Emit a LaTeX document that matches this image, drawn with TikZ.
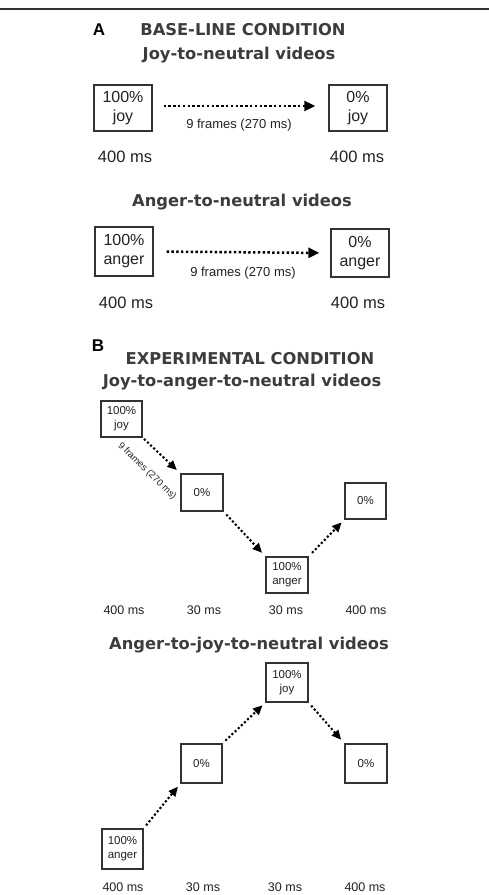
\documentclass[tikz,border=0pt]{standalone}
\usepackage{fontspec}
\setmainfont{Liberation Sans}
\newfontfamily\titlefont{DejaVu Sans}
\usetikzlibrary{arrows.meta}
\definecolor{titlegray}{HTML}{3C3C3C}
\definecolor{textgray}{HTML}{222222}
\definecolor{linegray}{HTML}{333333}
\tikzset{
  bigbox/.style={draw=linegray, line width=1.3pt, minimum width=58pt, minimum height=47pt, inner sep=0pt, align=center, text=textgray, font=\fontsize{16}{19}\selectfont},
  smallbox/.style={draw=linegray, line width=1.1pt, minimum width=42pt, minimum height=38pt, inner sep=0pt, align=center, text=textgray, font=\fontsize{11.5}{14}\selectfont},
  titletext/.style={text=titlegray, font=\titlefont\bfseries\fontsize{16.3}{19}\selectfont, inner sep=0pt},
  letter/.style={text=black, font=\bfseries\fontsize{17}{19}\selectfont, inner sep=0pt},
  bigtime/.style={text=textgray, font=\fontsize{16.5}{19}\selectfont, inner sep=0pt},
  smalltime/.style={text=textgray, font=\fontsize{12.5}{15}\selectfont, inner sep=0pt},
  framelabel/.style={text=textgray, font=\fontsize{13}{15}\selectfont, inner sep=0pt},
  bigarrow/.style={draw=black, line width=2.5pt, dash pattern=on 2.4pt off 2.4pt, -{Triangle[length=11pt,width=10pt]}},
  smallarrow/.style={draw=black, line width=2.1pt, dash pattern=on 2.1pt off 2.2pt, -{Triangle[length=9.5pt,width=8.5pt]}},
}
\begin{document}
\begin{tikzpicture}[x=1pt,y=-1pt]
\useasboundingbox (0,0) rectangle (489,895);
\fill[white] (0,0) rectangle (489,895);
\coordinate (ruleL) at (0,9);
\coordinate (ruleR) at (489,9);
\draw[line width=1.2pt, linegray] (ruleL) -- (ruleR);

% ---------- A ----------
\node[letter] (lA) at (99,30) {A};
\node[titletext] (tA) at (243,30) {BASE-LINE CONDITION};
\node[titletext] (tA1) at (239,55) {Joy-to-neutral videos};

\node[bigbox, minimum height=46pt] (a1) at (123,108) {100\%\\joy};
\node[bigbox, minimum height=46pt] (a2) at (358,108) {0\%\\joy};
\draw[bigarrow, shorten <=11pt, shorten >=13pt] ([yshift=2pt]a1.east) -- ([yshift=2pt]a2.west);
\node[framelabel] (f1) at (239,125) {9 frames (270 ms)};
\node[bigtime] (ta1) at (125,157) {400 ms};
\node[bigtime] (ta2) at (357,157) {400 ms};

\node[titletext] (tA2) at (242,202) {Anger-to-neutral videos};
\node[bigbox, minimum height=49pt] (a3) at (124,251.5) {100\%\\anger};
\node[bigbox, minimum height=48pt] (a4) at (360,253) {0\%\\anger};
\draw[bigarrow, shorten <=13pt, shorten >=11pt] (a3.east) -- (a4.west);
\node[framelabel] (f2) at (243,273) {9 frames (270 ms)};
\node[bigtime] (ta3) at (126,303) {400 ms};
\node[bigtime] (ta4) at (358,303) {400 ms};

% ---------- B ----------
\node[letter] (lB) at (98,346) {B};
\node[titletext] (tB) at (250,359) {EXPERIMENTAL CONDITION};
\node[titletext] (tB1) at (242,382) {Joy-to-anger-to-neutral videos};

\node[smallbox, minimum width=41pt, minimum height=36pt] (b1) at (121.5,419) {100\%\\joy};
\node[smallbox, minimum height=37pt] (b2) at (202,492.5) {0\%};
\node[smallbox, minimum height=36pt] (b3) at (287,575) {100\%\\anger};
\node[smallbox, minimum width=41pt, minimum height=36pt] (b4) at (365.5,501) {0\%};
\draw[smallarrow, shorten <=2pt, shorten >=5pt] (b1.south east) -- (b2.north west);
\draw[smallarrow, shorten <=4pt, shorten >=5pt] (b2.south east) -- (b3.north west);
\draw[smallarrow, shorten <=5pt, shorten >=4pt] (b3.north east) -- (b4.south west);
\node[text=textgray, font=\fontsize{9.5}{11}\selectfont, inner sep=0pt, rotate=-44] (fb) at (147,471) {9 frames (270 ms)};
\node[smalltime] (tb1) at (124,610) {400 ms};
\node[smalltime] (tb2) at (204,610) {30 ms};
\node[smalltime] (tb3) at (286,610) {30 ms};
\node[smalltime] (tb4) at (366,610) {400 ms};

\node[titletext] (tB2) at (249,645) {Anger-to-joy-to-neutral videos};
\node[smallbox, minimum height=39pt] (c1) at (287,682.5) {100\%\\joy};
\node[smallbox, minimum width=41pt, minimum height=39pt] (c2) at (201.5,763.5) {0\%};
\node[smallbox, minimum height=39pt] (c3) at (366,763.5) {0\%};
\node[smallbox, minimum width=41pt, minimum height=40pt] (c4) at (122.5,849) {100\%\\anger};
\draw[smallarrow, shorten <=4pt, shorten >=4pt] (c4.north east) -- (c2.south west);
\draw[smallarrow, shorten <=4pt, shorten >=4pt] (c2.north east) -- (c1.south west);
\draw[smallarrow, shorten <=4pt, shorten >=5pt] (c1.south east) -- (c3.north west);
\node[smalltime] (tc1) at (123,887) {400 ms};
\node[smalltime] (tc2) at (203,887) {30 ms};
\node[smalltime] (tc3) at (285,887) {30 ms};
\node[smalltime] (tc4) at (365,887) {400 ms};
\end{tikzpicture}
\end{document}
